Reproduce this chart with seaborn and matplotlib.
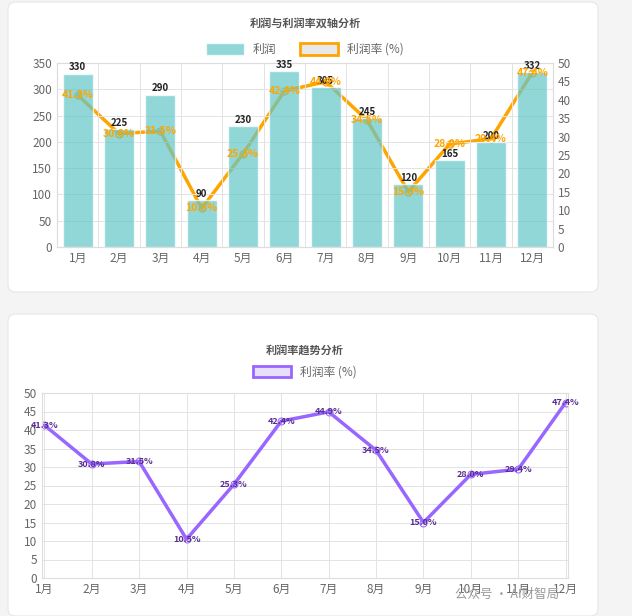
import numpy as np
import pandas as pd
import matplotlib.pyplot as plt
import seaborn as sns
from matplotlib.patches import FancyBboxPatch, Patch

months = ['1月', '2月', '3月', '4月', '5月', '6月', '7月', '8月', '9月', '10月', '11月', '12月']
profit = [330, 225, 290, 90, 230, 335, 305, 245, 120, 165, 200, 332]
margin = [41.3, 30.8, 31.5, 10.5, 25.3, 42.4, 44.9, 34.5, 15.0, 28.0, 29.4, 47.4]

sns.set_style('white')
plt.rcParams['font.family'] = ['Noto Sans CJK SC', 'DejaVu Sans']

df = pd.DataFrame({'month': months, 'profit': profit, 'margin': margin})
W, H = 632, 616
fig = plt.figure(figsize=(W / 100, H / 100), dpi=100)
fig.patch.set_facecolor('#f4f4f4')

# card backgrounds
for (x0, y0, x1, y1) in [(8, 2, 598, 292), (8, 314, 598, 616)]:
    fig.patches.append(FancyBboxPatch((x0 / W, 1 - y1 / H), (x1 - x0) / W, (y1 - y0) / H,
                                      boxstyle='round,pad=0,rounding_size=0.012', transform=fig.transFigure,
                                      facecolor='white', edgecolor='#e6e6e6', lw=0.8, zorder=-5))

grid_c = '#e3e3e3'
tick_c = '#666666'

# top chart
ax1 = fig.add_axes([57 / W, 1 - 247 / H, (553 - 57) / W, (247 - 63) / H])
ax2 = ax1.twinx()
x = np.arange(len(months))
ax2.plot(x, margin, color='orange', lw=2.5, zorder=1, marker='o', ms=5, mfc='none', mec='orange')
ax2.set_ylim(0, 50)
ax2.set_yticks(range(0, 51, 5))
ax2.patch.set_visible(False)
ax1.set_zorder(ax2.get_zorder() + 1)
ax1.patch.set_visible(False)
sns.barplot(data=df, x='month', y='profit', ax=ax1, color='#62c6c8', alpha=0.7, width=0.72, saturation=1)
ax1.set_ylim(0, 350)
ax1.set_yticks(range(0, 351, 50))
ax1.set_xlabel('')
ax1.set_ylabel('')
for i, v in enumerate(profit):
    ax1.text(i, v + 2, str(v), ha='center', va='bottom', fontsize=7, fontweight='bold', color='#222222')
for i, v in enumerate(margin):
    ax1.text(i, v * 7, f'{v}%', ha='center', va='center', fontsize=7.5, fontweight='bold', color='orange')
for a in (ax1, ax2):
    a.tick_params(labelsize=8.5, colors=tick_c, length=0)
    for s in a.spines.values():
        s.set_color('#dddddd')
ax1.set_xticks(x)
ax1.set_xticks(np.arange(-0.5, 12, 1), minor=True)
ax1.grid(True, axis='y', color=grid_c, lw=0.7)
ax1.grid(True, axis='x', which='minor', color=grid_c, lw=0.7)
ax1.set_xlim(-0.5, 11.5)
ax1.set_title('利润与利润率双轴分析', fontsize=8, fontweight='bold', color='#555555', pad=26)
h = [Patch(facecolor='#62c6c8', alpha=0.7, label='利润'),
     Patch(facecolor='#e8e8e8', edgecolor='orange', lw=2, label='利润率 (%)')]
ax1.legend(handles=h, loc='lower center', bbox_to_anchor=(0.5, 1.0), ncol=2, frameon=False,
           fontsize=8.5, labelcolor=tick_c, handlelength=3.2, handleheight=1.1, borderaxespad=0.2)

# bottom chart
ax3 = fig.add_axes([42 / W, 1 - 578 / H, (568 - 42) / W, (578 - 393) / H])
sns.lineplot(data=df, x='month', y='margin', ax=ax3, color='#9966ff', lw=2.5, sort=False,
             marker='o', ms=5, mfc='none', mec='#9966ff')
for i, v in enumerate(margin):
    ax3.text(i, v, f'{v}%', ha='center', va='center', fontsize=6.5, fontweight='bold', color='#5a2d91')
ax3.set_ylim(0, 50)
ax3.set_yticks(range(0, 51, 5))
ax3.set_xlim(-0.05, 11.05)
ax3.set_xlabel('')
ax3.set_ylabel('')
ax3.patch.set_visible(False)
ax3.tick_params(labelsize=8.5, colors=tick_c, length=0)
ax3.grid(True, color=grid_c, lw=0.7)
for s in ax3.spines.values():
    s.set_color('#dddddd')
ax3.set_title('利润率趋势分析', fontsize=8, fontweight='bold', color='#555555', pad=28)
h = [Patch(facecolor='#e8e0fb', edgecolor='#9966ff', lw=2, label='利润率 (%)')]
ax3.legend(handles=h, loc='lower center', bbox_to_anchor=(0.5, 1.02), frameon=False,
           fontsize=8.5, labelcolor=tick_c, handlelength=3.2, handleheight=1.1)

fig.text(0.72, 0.03, '公众号 · AI财智局', fontsize=9, color='#999999')

fig.savefig('out.png', dpi=100)
